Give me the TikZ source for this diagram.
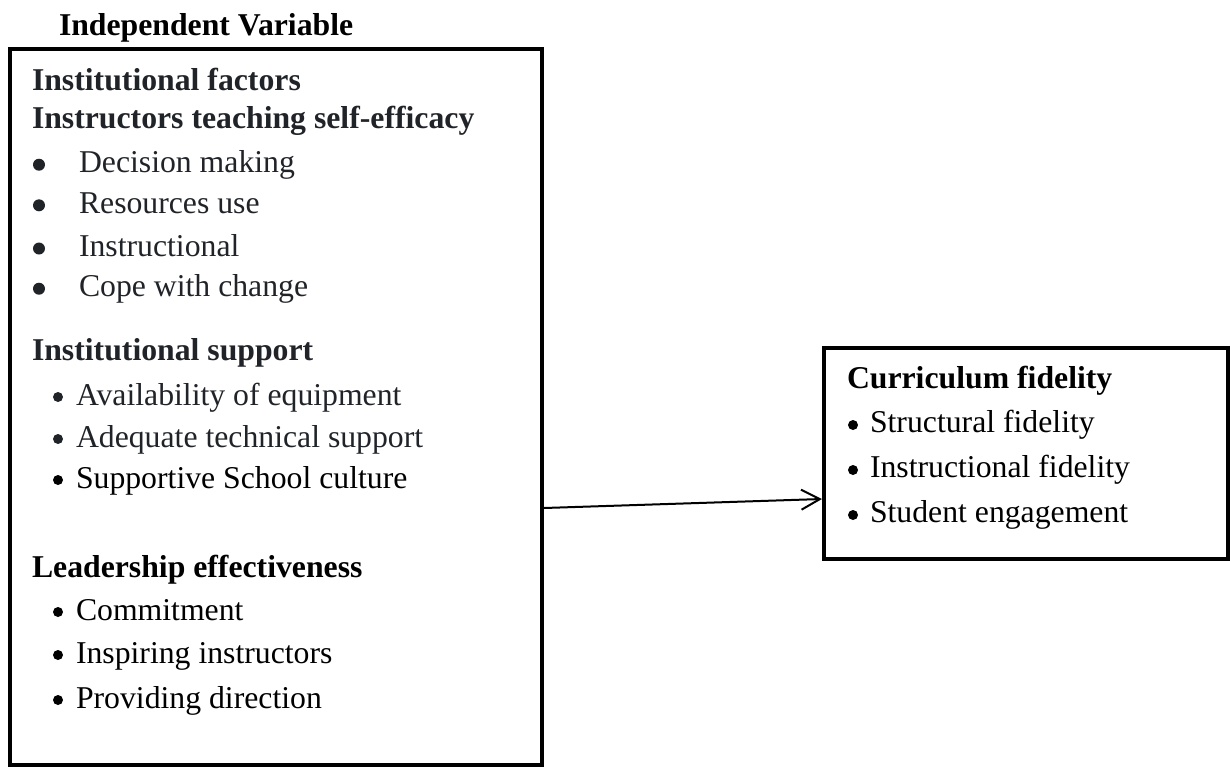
\documentclass[tikz,border=0pt]{standalone}
\usepackage{fontspec}
\setmainfont{Liberation Serif}
\usetikzlibrary{arrows.meta,calc}
\definecolor{inkdark}{RGB}{32,35,40}
\tikzset{
  txt/.style={anchor=base west, inner sep=0pt, outer sep=0pt, text=inkdark, font=\fontsize{23.8pt}{28pt}\selectfont},
  head/.style={txt, font=\fontsize{23.8pt}{28pt}\selectfont\bfseries},
  dotb/.style={circle, fill=inkdark, draw=none, inner sep=0pt, minimum size=7.5pt},
  bigdot/.style={dotb, minimum size=9pt},
  frame/.style={draw=black, line width=3pt, rectangle, inner sep=0pt},
  link/.style={draw=black, line width=1.5pt, -{Straight Barb[length=14pt, width=15pt, line width=1.5pt]}}
}
\begin{document}
\begin{tikzpicture}[x=0.75pt, y=-0.75pt]
\useasboundingbox (0,0) rectangle (1230,768);
% boxes
\node[frame, minimum width=532*0.75pt, minimum height=716*0.75pt] (iv) at (276,407) {};
\node[frame, minimum width=404*0.75pt, minimum height=211*0.75pt] (cf) at (1026,453.5) {};
% title
\node[head, text=black] (ttl) at (59,35) {Independent Variable};
% left box
\node[head] (h1) at (32,90) {Institutional factors};
\node[head] (h2) at (32,128) {Instructors teaching self-efficacy};
\node[bigdot] (b11) at (39,164.7) {};
\node[txt] (t11) at (79,172.7) {Decision making};
\node[bigdot] (b12) at (39,205.3) {};
\node[txt] (t12) at (79,213.3) {Resources use};
\node[bigdot] (b13) at (39,248.5) {};
\node[txt] (t13) at (79,256.5) {Instructional};
\node[bigdot] (b14) at (39,288.7) {};
\node[txt] (t14) at (79,296.7) {Cope with change};
\node[head] (h3) at (32,360) {Institutional support};
\node[dotb] (b21) at (58,397) {};
\node[txt] (t21) at (76,405) {Availability of equipment};
\node[dotb] (b22) at (58,439) {};
\node[txt] (t22) at (76,447) {Adequate technical support};
\node[dotb, fill=black] (b23) at (58,480) {};
\node[txt, text=black] (t23) at (76,488) {Supportive School culture};
\node[head, text=black] (h4) at (32,577) {Leadership effectiveness};
\node[dotb, fill=black] (b31) at (58,612) {};
\node[txt, text=black] (t31) at (76,620) {Commitment};
\node[dotb, fill=black] (b32) at (58,655) {};
\node[txt, text=black] (t32) at (76,663) {Inspiring instructors};
\node[dotb, fill=black] (b33) at (58,700) {};
\node[txt, text=black] (t33) at (76,708) {Providing direction};
% right box
\node[head, text=black] (h5) at (847,388) {Curriculum fidelity};
\node[dotb, fill=black] (b41) at (853,425) {};
\node[txt, text=black] (t41) at (870,432) {Structural fidelity};
\node[dotb, fill=black] (b42) at (853,470) {};
\node[txt, text=black] (t42) at (870,477) {Instructional fidelity};
\node[dotb, fill=black] (b43) at (853,515) {};
\node[txt, text=black] (t43) at (870,522) {Student engagement};
% connector
\draw[link] ($(iv.east)+(0,101)$) -- ($(cf.west)+(0,45.5)$);
\end{tikzpicture}
\end{document}
